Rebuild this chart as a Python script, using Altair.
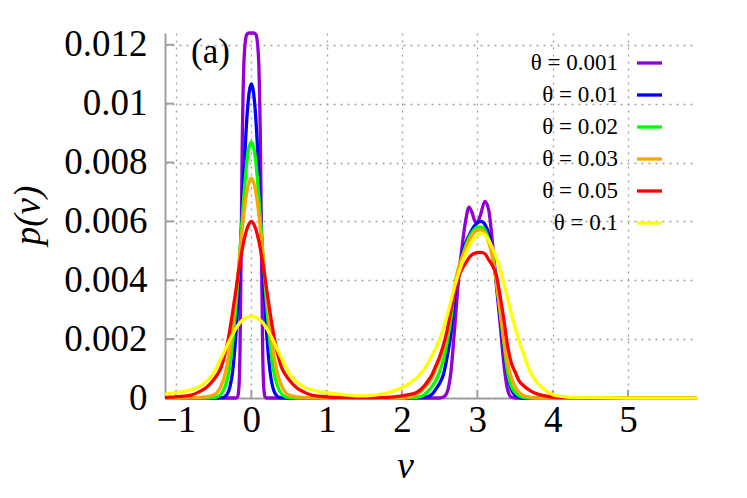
import altair as alt
import pandas as pd

# ---------------- data ----------------
v_ticks = [-1, 0, 1, 2, 3, 4, 5]
p_ticks = [0, 0.002, 0.004, 0.006, 0.008, 0.01, 0.012]
x_domain = [-1.146, 5.916]
y_domain = [0, 0.0124]

labels = ["θ = 0.001", "θ = 0.01", "θ = 0.02", "θ = 0.03", "θ = 0.05", "θ = 0.1"]
colors = ["#9400d3", "#0000ff", "#00ff00", "#ffa500", "#ff0000", "#ffff00"]

v_0001 = [-1.146, -0.5, -0.25, -0.2, -0.18, -0.17, -0.16, -0.15, -0.14, -0.13, -0.12, -0.11,
          -0.1, -0.09, -0.08, -0.06, -0.03, 0, 0.03, 0.06, 0.08, 0.09, 0.1, 0.11, 0.12, 0.13,
          0.14, 0.15, 0.16, 0.17, 0.18, 0.2, 0.25, 0.5, 1.5, 2.5, 2.55, 2.6, 2.65, 2.7, 2.75,
          2.8, 2.85, 2.89, 2.93, 2.97, 3.0, 3.04, 3.1, 3.15, 3.2, 3.25, 3.3, 3.35, 3.4, 3.45,
          3.5, 4.0, 5.916]
p_0001 = [0, 0, 0, 0, 0.00005, 0.0002, 0.0006, 0.0017, 0.0038, 0.0064, 0.0088, 0.0103,
          0.0113, 0.0118, 0.0121, 0.01235, 0.0124, 0.0124, 0.0124, 0.01235, 0.0121, 0.0118,
          0.0113, 0.0103, 0.0088, 0.0064, 0.0038, 0.0017, 0.0006, 0.0002, 0.00005, 0, 0, 0,
          0, 0, 0.00003, 0.0002, 0.0009, 0.0024, 0.0040, 0.0052, 0.0061, 0.00648, 0.0063,
          0.0060, 0.00597, 0.0062, 0.00668, 0.0064, 0.0053, 0.0039, 0.0026, 0.0012, 0.0003,
          0.00003, 0, 0, 0]

v_001 = [-1.146, -0.5, -0.4, -0.35, -0.3, -0.25, -0.2, -0.15, -0.125, -0.1, -0.075, -0.05,
         -0.025, 0, 0.025, 0.05, 0.075, 0.1, 0.125, 0.15, 0.2, 0.25, 0.3, 0.35, 0.4, 0.5, 1.5,
         2.3, 2.4, 2.45, 2.5, 2.55, 2.6, 2.65, 2.7, 2.75, 2.8, 2.85, 2.9, 2.95, 3.0, 3.05, 3.1,
         3.15, 3.2, 3.25, 3.3, 3.35, 3.4, 3.45, 3.5, 3.55, 3.6, 4.0, 5.916]
p_001 = [0, 0, 0.00001, 0.00005, 0.00024, 0.00087, 0.00234, 0.00476, 0.00618, 0.00758,
         0.00884, 0.00983, 0.01045, 0.01067, 0.01045, 0.00983, 0.00884, 0.00758, 0.00618,
         0.00476, 0.00234, 0.00087, 0.00024, 0.00005, 0.00001, 0, 0,
         0.00002, 0.00013, 0.0003, 0.0005, 0.0008, 0.0014, 0.0022, 0.0035, 0.0043, 0.0049,
         0.0053, 0.00557, 0.0058, 0.00595, 0.0060, 0.0059, 0.0056, 0.0050, 0.0040, 0.0028,
         0.0017, 0.0008, 0.0003, 0.0001, 0.00003, 0, 0, 0]

v_002 = [-1.146, -0.6, -0.5, -0.45, -0.4, -0.35, -0.3, -0.25, -0.2, -0.15, -0.1, -0.05, 0,
         0.05, 0.1, 0.15, 0.2, 0.25, 0.3, 0.35, 0.4, 0.45, 0.5, 0.6, 1.5,
         2.2, 2.3, 2.35, 2.4, 2.45, 2.5, 2.55, 2.6, 2.65, 2.7, 2.75, 2.8, 2.85, 2.9, 2.95, 3.0,
         3.05, 3.1, 3.15, 3.2, 3.25, 3.3, 3.35, 3.4, 3.45, 3.5, 3.55, 3.6, 3.7, 4.0, 5.916]
p_002 = [0, 0, 0.00001, 0.00004, 0.00014, 0.00038, 0.00087, 0.00184, 0.00326, 0.00504,
         0.00684, 0.00823, 0.0087, 0.00823, 0.00684, 0.00504, 0.00326, 0.00184, 0.00087,
         0.00038, 0.00014, 0.00004, 0.00001, 0, 0,
         0.00002, 0.00012, 0.00025, 0.0004, 0.0006, 0.0009, 0.0013, 0.0019, 0.0027, 0.0038,
         0.0044, 0.0048, 0.0052, 0.0055, 0.0057, 0.0058, 0.0058, 0.0057, 0.0054, 0.0049,
         0.0040, 0.0030, 0.0019, 0.0009, 0.0004, 0.0002, 0.00008, 0.00003, 0, 0, 0]

v_003 = [-1.146, -1.0, -0.8, -0.7, -0.6, -0.5, -0.45, -0.4, -0.35, -0.3, -0.25, -0.2, -0.15,
         -0.1, -0.05, 0, 0.05, 0.1, 0.15, 0.2, 0.25, 0.3, 0.35, 0.4, 0.45, 0.5, 0.6, 0.7, 0.8,
         1.0, 1.5, 2.0,
         2.1, 2.2, 2.25, 2.3, 2.35, 2.4, 2.45, 2.5, 2.55, 2.6, 2.65, 2.7, 2.75, 2.8, 2.85, 2.9,
         2.95, 3.0, 3.05, 3.1, 3.15, 3.2, 3.25, 3.3, 3.35, 3.4, 3.45, 3.5, 3.55, 3.6, 3.7, 3.8,
         4.0, 5.916]
p_003 = [0, 0, 0.00001, 0.00002, 0.00004, 0.0001, 0.0002, 0.00042, 0.0008, 0.00144, 0.0024,
         0.00362, 0.00497, 0.00624, 0.00713, 0.00747, 0.00713, 0.00624, 0.00497, 0.00362,
         0.0024, 0.00144, 0.0008, 0.00042, 0.0002, 0.0001, 0.00004, 0.00002, 0.00001, 0, 0, 0,
         0.00003, 0.00013, 0.00022, 0.00035, 0.0005, 0.0007, 0.001, 0.0013, 0.0017, 0.0022,
         0.003, 0.0038, 0.0044, 0.0048, 0.0051, 0.0054, 0.0056, 0.0057, 0.0057, 0.0056, 0.0053,
         0.0048, 0.0040, 0.0030, 0.0020, 0.0012, 0.0007, 0.0004, 0.0002, 0.0001, 0.00003, 0,
         0, 0]

v_005 = [-1.146, -1.0, -0.9, -0.8, -0.7, -0.6, -0.5, -0.45, -0.4, -0.35, -0.3, -0.25, -0.2,
         -0.15, -0.1, -0.05, 0, 0.05, 0.1, 0.15, 0.2, 0.25, 0.3, 0.35, 0.4, 0.45, 0.5, 0.6, 0.7,
         0.8, 0.9, 1.0, 1.2, 1.5, 1.8, 2.0, 2.1, 2.2, 2.3, 2.35, 2.4, 2.45, 2.5, 2.55, 2.6, 2.65,
         2.7, 2.75, 2.8, 2.85, 2.9, 2.95, 3.0, 3.05, 3.1, 3.15, 3.2, 3.25, 3.3, 3.35, 3.4, 3.45,
         3.5, 3.55, 3.6, 3.7, 3.8, 3.9, 4.0, 4.2, 4.5, 5.916]
p_005 = [0.00002, 0.00004, 0.00006, 0.0001, 0.0002, 0.00035, 0.00062, 0.0008, 0.00105, 0.0015,
         0.0021, 0.00288, 0.00375, 0.00461, 0.00533, 0.0058, 0.006, 0.0058, 0.00533, 0.00461,
         0.00375, 0.00288, 0.0021, 0.0015, 0.00105, 0.0008, 0.00062, 0.00035, 0.0002, 0.0001,
         0.00006, 0.00004, 0.00002, 0.00001, 0.00002, 0.00007, 0.00012, 0.0002, 0.00042,
         0.0006, 0.0008, 0.0011, 0.0014, 0.0018, 0.0023, 0.003, 0.0036, 0.0041, 0.0044, 0.0046,
         0.0048, 0.0049, 0.00494, 0.00495, 0.0049, 0.0047, 0.0045, 0.0042, 0.0035, 0.0027,
         0.0018, 0.0012, 0.0009, 0.0006, 0.00045, 0.00025, 0.00013, 0.00007, 0.00003, 0.00001,
         0, 0]

v_01 = [-1.146, -1.0, -0.9, -0.8, -0.7, -0.6, -0.5, -0.45, -0.4, -0.35, -0.3, -0.25, -0.2,
        -0.15, -0.1, -0.05, 0, 0.05, 0.1, 0.15, 0.2, 0.25, 0.3, 0.35, 0.4, 0.45, 0.5, 0.6, 0.7,
        0.8, 0.9, 1.0, 1.15, 1.3, 1.5, 1.7, 1.8, 1.9, 2.0, 2.1, 2.2, 2.3, 2.4, 2.5, 2.6, 2.7,
        2.8, 2.9, 2.95, 3.0, 3.05, 3.1, 3.2, 3.3, 3.4, 3.5, 3.6, 3.7, 3.8, 3.9, 4.0, 4.1, 4.2,
        4.5, 5.0, 5.916]
p_01 = [0.00013, 0.00018, 0.00022, 0.00028, 0.00037, 0.00055, 0.00085, 0.0011, 0.00135,
        0.00162, 0.0019, 0.00215, 0.00238, 0.00256, 0.00268, 0.00275, 0.00278, 0.00275,
        0.00268, 0.00256, 0.00238, 0.00215, 0.0019, 0.00162, 0.00135, 0.0011, 0.00085,
        0.00055, 0.00037, 0.00028, 0.00022, 0.00018, 0.00013, 0.00009, 0.00007, 0.00012,
        0.00017, 0.00025, 0.00036, 0.0005, 0.0007, 0.001, 0.00145, 0.002, 0.0028, 0.0038,
        0.0046, 0.0052, 0.0054, 0.00553, 0.0056, 0.00555, 0.0051, 0.0044, 0.0034, 0.0024,
        0.0016, 0.0009, 0.0005, 0.00027, 0.00012, 0.00006, 0.00003, 0.00001, 0, 0]

series_v = [v_0001, v_001, v_002, v_003, v_005, v_01]
series_p = [p_0001, p_001, p_002, p_003, p_005, p_01]

# ---------------- styling ----------------
W, H = 532, 365
FONT = "Liberation Serif"
GRAY = "#a0a0a0"

xscale = alt.Scale(domain=x_domain, nice=False, zero=False)
yscale = alt.Scale(domain=y_domain, nice=False, zero=False)

xaxis = alt.Axis(values=v_ticks, format="d", title="v", titleFont=FONT, titleFontSize=38,
                 titleFontStyle="italic", titleFontWeight="normal", titleColor="black",
                 titleX=240, titleY=68, titleAlign="center", titleBaseline="middle",
                 labelFont=FONT, labelFontSize=37, labelColor="black", labelPadding=4,
                 labelFlush=False, ticks=False, domainColor=GRAY, domainWidth=2,
                 grid=True, gridColor=GRAY, gridDash=[2, 5], gridWidth=1.3)
yaxis = alt.Axis(values=p_ticks, format="~g", title="p(v)", titleFont=FONT, titleFontSize=37,
                 titleFontStyle="italic", titleFontWeight="normal", titleColor="black",
                 titleAngle=270, titleX=-137, titleY=182, titleAlign="center",
                 titleBaseline="middle", labelFont=FONT, labelFontSize=37, labelColor="black",
                 labelPadding=18, labelFlush=False, ticks=False, domainColor=GRAY,
                 domainWidth=2, grid=True, gridColor=GRAY, gridDash=[2, 5], gridWidth=1.3)

layers = []
for vs, ps, col in zip(series_v, series_p, colors):
    assert len(vs) == len(ps), (len(vs), len(ps), col)
    df = pd.DataFrame({"v": vs, "p": ps})
    layers.append(
        alt.Chart(df).mark_line(color=col, strokeWidth=3.3, interpolate="monotone").encode(
            x=alt.X("v:Q", scale=xscale, axis=xaxis),
            y=alt.Y("p:Q", scale=yscale, axis=yaxis),
        )
    )

# inward ticks
ytick_df = pd.DataFrame({"p": p_ticks[1:]})
xtick_df = pd.DataFrame({"v": v_ticks})
ytick_layer = alt.Chart(ytick_df).mark_rule(color=GRAY, strokeWidth=2).encode(
    y=alt.Y("p:Q", scale=yscale, axis=yaxis), x=alt.value(0), x2=alt.value(9))
xtick_layer = alt.Chart(xtick_df).mark_rule(color=GRAY, strokeWidth=2).encode(
    x=alt.X("v:Q", scale=xscale, axis=xaxis), y=alt.value(H), y2=alt.value(H - 8))

tag = alt.Chart(pd.DataFrame({"t": ["(a)"]})).mark_text(
    font=FONT, fontSize=35, align="left", baseline="middle", color="black").encode(
    text="t:N", x=alt.value(26), y=alt.value(19))

plot = alt.layer(xtick_layer, ytick_layer, *layers, tag)

# legend (labels to the left of the samples)
leg_df = pd.DataFrame({"row": list(range(len(labels))), "label": labels, "color": colors})
leg_y = alt.Y("row:O", scale=alt.Scale(type="point", domain=list(range(len(labels))),
                                       range=[30, 190], padding=0), axis=None)
leg_text = alt.Chart(leg_df).mark_text(font=FONT, fontSize=23, align="right",
                                       baseline="middle", color="black").encode(
    y=leg_y, x=alt.value(453), text="label:N")
leg_line = alt.Chart(leg_df).mark_rule(strokeWidth=3.3).encode(
    y=leg_y, x=alt.value(472), x2=alt.value(497), color=alt.Color("color:N", scale=None))

chart = alt.layer(plot, leg_text, leg_line).resolve_scale(y="independent").properties(
    width=W, height=H, autosize=alt.AutoSizeParams(type="none"),
    padding={"left": 157, "top": 25, "right": 38, "bottom": 86},
    background="white",
).configure_view(stroke=None)

chart.save("out.html", embed_options={"renderer": "svg", "actions": False})
